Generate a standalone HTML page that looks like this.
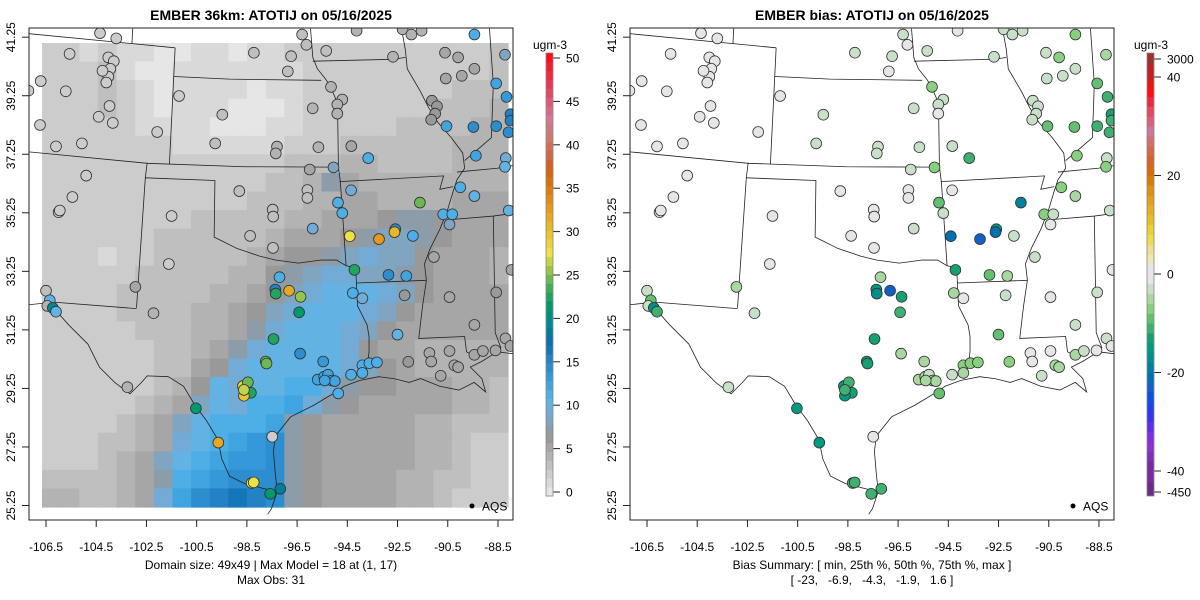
<!DOCTYPE html>
<html><head><meta charset="utf-8"><style>
html,body{margin:0;padding:0;background:#fff;}
svg{display:block;font-family:"Liberation Sans",Arial,sans-serif;}
</style></head><body>
<svg id="chart" width="1200" height="600" viewBox="0 0 1200 600">
<defs>
<clipPath id="clipL"><rect x="29" y="28" width="484" height="492"/></clipPath>
<clipPath id="clipR"><rect x="630" y="28" width="484" height="492"/></clipPath>
</defs>
<g id="panelL"></g>
<g id="panelR"></g>
</svg>
<script>
// ---- data ----
const lonTicks = [-106.5,-104.5,-102.5,-100.5,-98.5,-96.5,-94.5,-92.5,-90.5,-88.5];
const latTicks = [25.25,27.25,29.25,31.25,33.25,35.25,37.25,39.25,41.25];
const obsTicks = [0,5,10,15,20,25,30,35,40,45,50];
const biasTickLabels = ["3000","40","20","0","-20","-40","-450"];
const biasTickValues = [44,40,20,0,-20,-40,-44];
// model field (coarse 25x25, base-36 ugm-3, north row first)
const gridRows = [
"2212110011011222222222223",
"2223100111111122222222223",
"2223210111101122222222333",
"2223210111000122222223334",
"2222211110001122222333344",
"2222222111111222333333444",
"2222222222222333443333444",
"2222222222223347544444444",
"2222222222233344554444555",
"2222222233333445556776555",
"2222223333334555678876555",
"2221223333345667898865554",
"2222233333446789988765554",
"222233333445689aaa9865555",
"22223333445689aaa98655555",
"2222233344579aaa986555555",
"222222334579aaaa965544444",
"22222233569aaaaa986544444",
"222222346a9aabb9766555443",
"222223458a9bbc97655555443",
"22223458abbbc765555544333",
"22233459abcde765555544322",
"2223458abcdde765555544322",
"3333457bcdeee765555443322",
"4433459cefgfe765555443222"
];
const stLon = [-104.35,-103.7,-105.56,-104.02,-103.8,-103.94,-104.02,-104.1,-104.25,-106.71,-107.2,-105.71,-103.97,-104.4,-103.84,-106.74,-106.1,-105.07,-102.07,-104.9,-105.45,-106.0,-105.95,-101.2,-99.48,-99.76,-98.22,-96.74,-96.87,-96.3,-96.13,-95.34,-94.13,-95.15,-94.7,-94.9,-94.9,-95.88,-97.3,-97.35,-95.65,-94.34,-93.67,-96.0,-95.05,-96.09,-96.09,-98.8,-97.47,-97.45,-95.88,-98.37,-97.46,-101.5,-101.61,-102.94,-102.22,-103.26,-106.5,-106.35,-106.45,-106.23,-106.1,-97.2,-97.37,-97.35,-96.82,-96.36,-96.42,-97.44,-96.38,-97.75,-97.72,-98.66,-98.46,-98.34,-98.62,-98.62,-100.53,-99.64,-97.49,-98.31,-98.23,-97.57,-97.17,-95.68,-95.42,-95.27,-95.12,-95.0,-95.4,-94.86,-95.46,-94.35,-93.9,-93.62,-93.32,-93.9,-94.22,-94.28,-93.9,-92.86,-92.15,-92.22,-92.5,-92.07,-91.23,-91.16,-90.78,-90.43,-90.24,-90.09,-89.44,-89.1,-88.6,-88.2,-88.0,-89.44,-90.43,-91.05,-88.57,-87.96,-90.43,-90.68,-90.32,-91.61,-92.59,-92.62,-93.24,-94.4,-91.89,-94.87,-94.7,-94.35,-90.0,-89.44,-88.07,-89.38,-88.19,-88.22,-90.55,-89.48,-88.57,-88.0,-88.0,-88.08,-88.16,-88.57,-88.22,-89.44,-90.61,-90.09,-89.44,-89.94,-90.58,-92.68,-92.3,-91.95,-91.54,-91.13,-90.93,-91.0,-91.16];
const stLat = [41.39,41.21,40.68,40.56,40.43,40.17,39.9,39.7,40.1,39.75,39.42,39.4,38.9,38.53,38.32,38.25,37.52,37.62,38.01,36.52,35.79,35.27,35.33,39.24,38.6,37.62,40.72,40.6,40.08,41.34,40.99,40.78,41.47,39.55,39.12,38.95,38.64,38.82,37.51,37.28,37.49,37.53,37.12,36.73,36.8,36.03,35.76,35.99,35.36,35.12,34.71,34.46,34.05,35.14,33.5,32.72,31.82,29.29,32.59,32.26,32.07,32.0,31.87,33.05,32.63,32.49,32.59,32.38,31.85,30.94,30.44,30.17,30.1,29.33,29.46,29.1,29.0,29.2,28.57,27.4,27.6,26.02,26.04,25.65,25.82,29.55,29.65,29.72,29.52,29.5,29.52,29.08,30.17,29.72,30.04,30.11,30.14,29.78,33.3,32.51,32.33,33.13,33.09,32.43,31.09,30.16,30.46,30.17,29.68,30.53,30.04,29.98,30.4,30.53,30.55,30.96,30.7,31.42,32.37,33.74,32.53,33.3,34.85,35.2,35.2,35.6,34.69,34.59,34.35,34.45,34.46,35.6,35.24,36.02,36.12,35.82,35.33,37.2,37.12,36.82,38.21,38.18,38.21,38.62,38.4,38.0,39.21,39.67,40.65,41.34,40.72,40.56,40.17,39.93,39.84,40.58,41.52,41.34,41.47,39.08,38.89,38.64,38.43];
const stObs = [2,2,2,2,2,2,2,2,2,2,2,2,2,2,2,2,2,2,2,2,2,2,2,2,3,3,3,3,3,3,3,3,4,4,4,4,4,4,4,4,4,5,11,5,8,3,3,3,3,3,9,3,3,2,2,5,4,4,3,10,4,19,10,11,15,22,31,25,21,22,14,24,24,28,24,22,29,26,21,31,2,27,27,21,18,12,12,12,12,12,12,11,13,11,11,11,11,11,22,11,9,14,12,6,10,6,5,5,5,5,5,5,5,5,5,5,5,5,5,5,6,5,8,11,11,24,14,30,32,27,11,11,11,9,11,10,10,12,9,10,12,14,14,15,15,14,13,12,8,11,5,5,5,5,5,4,4,4,4,6,6,6,6];
const stBias = [-1,-1,-1,-1,-1,-1,-1,-1,-1,-1,-1,-1,-1,-1,-1,-1,-1,-1,-1,-1,-1,-1,-1,-1,-2,-2,-2,-2,-1,-2,-1,-3,-1,-7,-2,-2,-1,-3,-3,-3,-2,-3,-10,-2,-7,-1,-1,-1,-1,-1,-3,-1,-1,-1,-1,-4,-3,-3,-2,-8,-3,-17,-10,-5,-15,-16,-22,-13,-10,-13,-5,-12,-12,-14,-11,-12,-15,-10,-14,-15,0,-10,-10,-10,-11,-4,-4,-3,-5,-5,-4,-9,-4,-3,-7,-7,-7,-4,-13,-4,-1,-8,-5,-2,-8,-6,0,-1,-3,-1,-4,-4,-5,-3,-1,-3,-1,-3,0,-3,-3,-1,-1,-7,-3,-18,-14,-20,-23,-20,-2,-8,-3,-1,-6,-4,-2,-7,-3,-6,-8,-9,-10,-12,-11,-10,-10,-9,-4,-7,-3,-6,-3,-3,-2,-2,-3,-3,-3,-3,-3,-3,-3];

// ---- scales ----
const X0L = 0, X0R = 601;
function xLon(lon){ return 46 + (lon + 106.5) * 25.11; }
function yLat(lat){ return 505.5 - (lat - 25.25) * 29.27; }
const obsColors = ["#e6e6e6","#d9d9d9","#cccccc","#bfbfbf","#b3b3b3","#a6a6a6","#999999","#8c9ca8","#7fa5c0","#72acd6","#62b2e4","#4eaee6","#40a4e0","#3598d8","#2c8dcf","#2282c4","#1276b8","#0a70b0","#007c9c","#008894","#00917e","#00996c","#20a460","#40ae58","#6cb852","#98c44a","#c4d448","#ece248","#ecd23a","#ebc42e","#e9b626","#e6a820","#e49a1a","#e28c14","#df7e10","#da700c","#d6660e","#d46226","#d26840","#d07058","#d0786a","#d07882","#d47894","#d86a88","#dc5a78","#e24868","#e83856","#ee2a44","#f41c30","#fa0e18"];
function obsColor(v){ return obsColors[Math.max(0,Math.min(49,Math.floor(v)))]; }
const biasNeg = ["#c8e0c8","#a8d8a0","#88cf80","#62c070","#40b070","#14a070","#009a80","#008e8e","#0080a0","#0070b0","#1060c8","#1050e0","#2040f0","#3a30f0","#6030e8","#8030e0","#9030d0","#8030b0","#7a2aa0"];
const biasPos = ["#ece6b8","#eee090","#eedc50","#ecd030","#e8c020","#e8b020","#e4a018","#e09010","#dc7c08","#d86a08","#d46428","#d46848","#d07070","#cc7898","#d86080","#e84860","#f02840","#ff1010","#e01818"];
function biasColor(v){
  if (v > -2 && v < 2) return "#e6e6e6";
  if (v >= 2){ const i = Math.floor((v-2)/2); return i>=19 ? "#c02020" : biasPos[i]; }
  const i = Math.floor((-v-2)/2); return i>=19 ? "#6a2a90" : biasNeg[i];
}

const NS = "http://www.w3.org/2000/svg";
function mk(tag, attrs, parent){
  const e = document.createElementNS(NS, tag);
  for (const k in attrs) e.setAttribute(k, attrs[k]);
  parent.appendChild(e); return e;
}
const borderD = [
"M75,88 L458,125","M347,75 L345,115","M458,125 L443,430","M455,200 L600,207 L840,210",
"M812,75 L818,150 L830,180 L850,205 L862,222 L872,245 L883,270 L883,300 L885,437",
"M75,397 L385,427 L640,436 L870,437 L885,437",
"M385,425 L380,465 L357,805",
"M380,465 L562,472 L560,620 L580,630 L620,650 L680,670 L720,680 L780,688 L840,680 L880,680 L905,695 L930,700",
"M75,797 L140,790 L357,807",
"M140,805 L180,850 L230,900 L260,960 L300,1000 L340,1030 L370,1000 L385,983 L440,985 L480,1010 L510,1060 L540,1100 L570,1150 L580,1200 L600,1245 L640,1265 L700,1280 L725,1285",
"M700,1345 L710,1330 L725,1285 L720,1240 L715,1180 L720,1140 L760,1090 L820,1060 L870,1030 L900,1010 L940,995 L990,985 L1030,990 L1070,1000 L1100,990 L1150,1010 L1200,1020 L1240,1000 L1270,1025 L1260,990 L1230,960 L1260,945 L1300,920 L1342,925",
"M930,700 L932,740 L935,800 L960,850 L965,880 L965,920 L960,960 L950,990",
"M885,437 L890,475 L905,695",
"M888,475 L1160,460 L1150,495 L1185,488",
"M932,740 L1115,733",
"M1050,75 L1060,130 L1065,180 L1100,240 L1120,280 L1145,320 L1180,360 L1210,400 L1215,440 L1195,470 L1185,500 L1170,550 L1150,600 L1125,650 L1110,690 L1115,733 L1105,800 L1095,885 L1215,880 L1220,920 L1240,930",
"M818,160 L1030,155 L1060,150",
"M1280,75 L1290,220 L1285,360 L1250,390 L1215,420",
"M1195,450 L1300,440 L1342,433","M1170,575 L1290,565 L1342,558","M1290,565 L1295,870 L1310,910"
];

function buildPanel(g, off, isBias){
  const clip = isBias ? "url(#clipR)" : "url(#clipL)";
  const plot = mk("g", {"clip-path": clip}, g);
  
  
  if (!isBias){
    const gx0 = 42, gx1 = 508, gy0 = 43, gy1 = 507, n = gridRows.length;
    const cw = (gx1-gx0)/25, ch = (gy1-gy0)/n;
    gridRows.forEach((row, r) => {
      for (let c = 0; c < 25; c++){
        const v = parseInt(row[c], 36);
        const cell = mk("rect", {x:(gx0+c*cw).toFixed(2), y:(gy0+r*ch).toFixed(2), width:(cw+0.6).toFixed(2), height:(ch+0.6).toFixed(2), fill:obsColor(v)}, plot);
        
        
      }
    });
  }
  const bg = mk("g", {transform:`translate(${off},0) scale(${1/2.615})`, fill:"none", stroke:"#222", "stroke-width":"0.8", "vector-effect":"non-scaling-stroke"}, plot);
  
  
  borderD.forEach(d => { mk("path", {d:d, "vector-effect":"non-scaling-stroke"}, bg); });
  for (let i = 0; i < stLon.length; i++){
    const v = isBias ? stBias[i] : stObs[i];
    const c = mk("circle", {cx:(off + xLon(stLon[i])).toFixed(1), cy:yLat(stLat[i]).toFixed(1), r:5.4, fill: isBias ? biasColor(v) : obsColor(v), stroke:"#333", "stroke-width":"0.8"}, plot);
    
    
  }
  const fr = mk("rect", {x:off+29, y:28, width:484, height:492, fill:"none", stroke:"#222", "stroke-width":"1"}, g);
  
  
  const t = mk("text", {x:off+271, y:20, "text-anchor":"middle", "font-size":"14", "font-weight":"bold"}, g);
  t.textContent = isBias ? "EMBER bias: ATOTIJ on 05/16/2025" : "EMBER 36km: ATOTIJ on 05/16/2025";
  
  
  lonTicks.forEach(lon => {
    const x = off + xLon(lon);
    mk("line", {x1:x, x2:x, y1:520, y2:527, stroke:"#222"}, g);
    const tl = mk("text", {x:x, y:551, "text-anchor":"middle", "font-size":"12"}, g);
    tl.textContent = lon.toFixed(1);
    
    
  });
  latTicks.forEach(lat => {
    const y = yLat(lat);
    mk("line", {x1:off+22, x2:off+29, y1:y, y2:y, stroke:"#222"}, g);
    const tl = mk("text", {x:off+15, y:y, "text-anchor":"middle", "font-size":"12", transform:`rotate(-90 ${off+15} ${y})`}, g);
    tl.textContent = lat.toFixed(2);
    
    
  });
  const ld = mk("circle", {cx:off+472, cy:506, r:2.5, fill:"#000"}, g);
  
  
  const lt = mk("text", {x:off+482, y:510.5, "font-size":"12"}, g);
  lt.textContent = "AQS";
  
  
  const s1 = mk("text", {x:off+271, y:569, "text-anchor":"middle", "font-size":"12"}, g);
  s1.textContent = isBias ? "Bias Summary: [ min, 25th %, 50th %, 75th %, max ]" : "Domain size: 49x49 | Max Model = 18 at (1, 17)";
  
  
  const s2 = mk("text", {x:off+271, y:584, "text-anchor":"middle", "font-size":"12"}, g);
  s2.setAttribute("style","white-space:pre");
  s2.textContent = isBias ? "[ -23,   -6.9,   -4.3,   -1.9,   1.6 ]" : "Max Obs: 31";
  
  
  const cb = mk("g", {}, g);
  
  
  const bx = off + 546, bw = 7, top = 53, bot = 496;
  if (!isBias){
    const h = (bot-top)/50;
    for (let i = 0; i < 50; i++) mk("rect", {x:bx, y:(bot-(i+1)*h).toFixed(2), width:bw, height:(h+0.4).toFixed(2), fill:obsColors[i]}, cb);
    obsTicks.forEach(v => {
      const y = 492 - v*(492-58)/50;
      mk("line", {x1:bx+bw, x2:bx+bw+7, y1:y, y2:y, stroke:"#222"}, cb);
      const tl = mk("text", {x:bx+bw+13, y:y+4.5, "font-size":"12"}, cb);
      tl.textContent = String(v);
    });
  } else {
    const yB = v => 274 - v*4.925;
    for (let v = -40; v < 40; v += 2){
      if (v === -2 || v === 0) continue;
      mk("rect", {x:bx, y:yB(v+2).toFixed(2), width:bw, height:10.2, fill:biasColor(v+1)}, cb);
    }
    mk("rect", {x:bx, y:yB(2), width:bw, height:yB(-2)-yB(2)+0.3, fill:"#e6e6e6"}, cb);
    mk("rect", {x:bx, y:top, width:bw, height:13, fill:"#a03030"}, cb);
    mk("rect", {x:bx, y:top+12.5, width:bw, height:13, fill:"#c42020"}, cb);
    mk("rect", {x:bx, y:yB(-40), width:bw, height:12, fill:"#7a2a9a"}, cb);
    mk("rect", {x:bx, y:yB(-40)+12, width:bw, height:bot-yB(-40)-12, fill:"#6a2a88"}, cb);
    biasTickLabels.forEach((lab, i) => {
      const y = (biasTickValues[i] === 44) ? 59 : (biasTickValues[i] === -44 ? 492 : yB(biasTickValues[i]));
      mk("line", {x1:bx+bw, x2:bx+bw+7, y1:y, y2:y, stroke:"#222"}, cb);
      const tl = mk("text", {x:bx+bw+13, y:y+4.5, "font-size":"12"}, cb);
      tl.textContent = lab;
    });
  }
  mk("rect", {x:bx, y:top, width:bw, height:bot-top, fill:"none", stroke:"#888", "stroke-width":"0.8"}, cb);
  const ut = mk("text", {x:bx+4, y:49, "text-anchor":"middle", "font-size":"12"}, cb);
  ut.textContent = "ugm-3";
  
  
}
buildPanel(document.getElementById("panelL"), X0L, false);
buildPanel(document.getElementById("panelR"), X0R, true);
</script>
</body></html>
